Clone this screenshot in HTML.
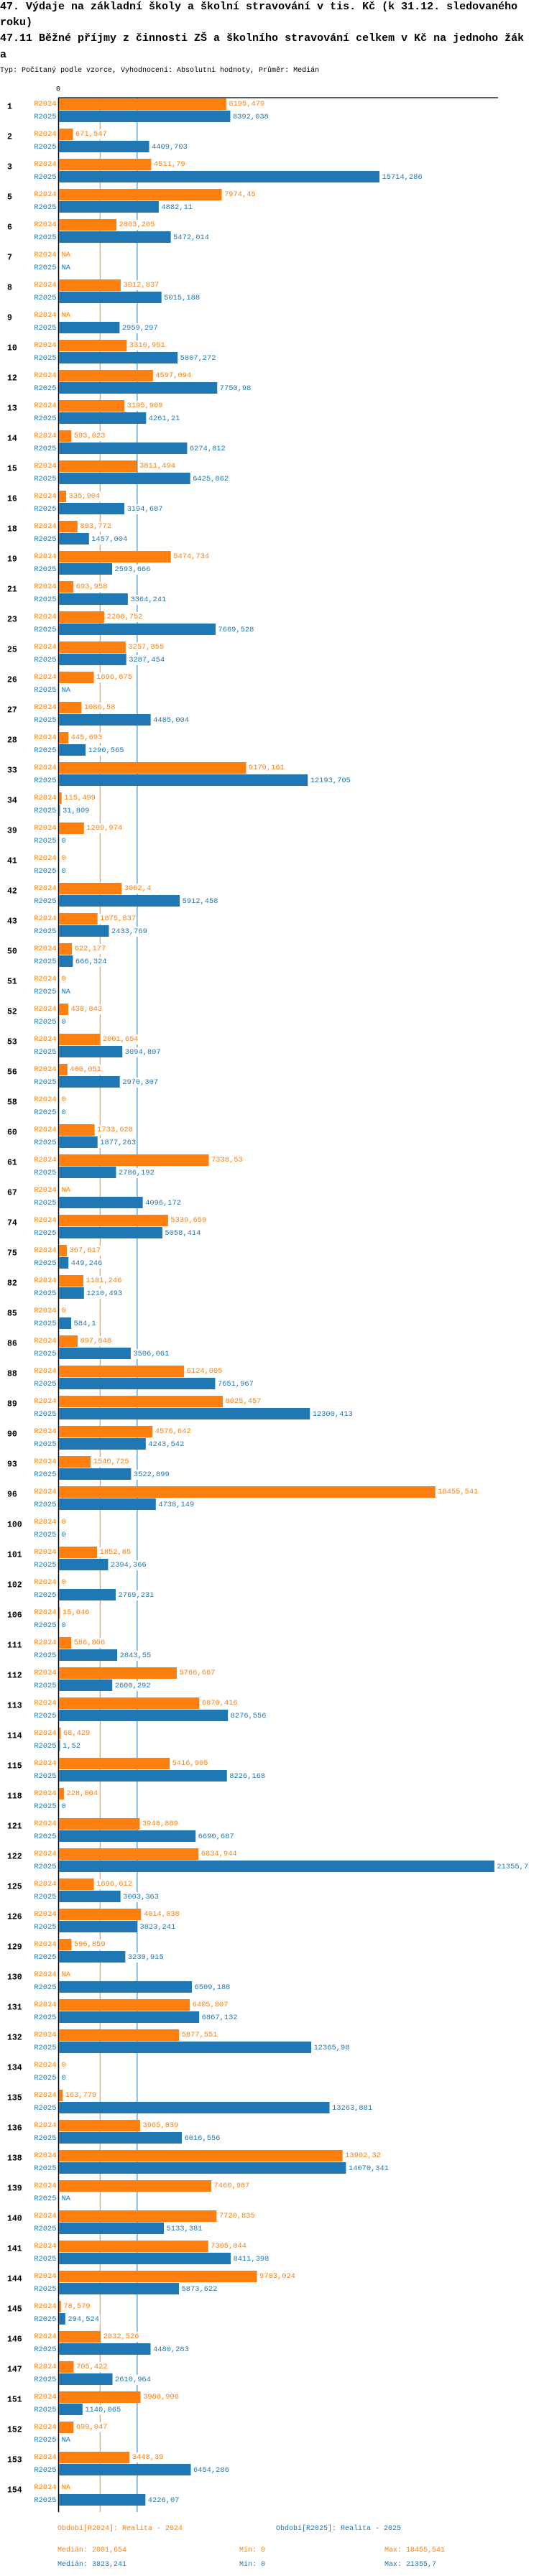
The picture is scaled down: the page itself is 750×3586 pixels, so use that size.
<!DOCTYPE html>
<html><head><meta charset="utf-8">
<style>
html,body{margin:0;padding:0;background:#fff;}
svg{display:block;}
text{font-family:"Liberation Mono",monospace;}
</style></head>
<body>
<svg id="chart" width="750" height="3586" xmlns="http://www.w3.org/2000/svg">
  <g font-size="15" font-weight="bold" fill="#000">
    <text x="0" y="13">47. Výdaje na základní školy a školní stravování v tis. Kč (k 31.12. sledovaného</text>
    <text x="0" y="35">roku)</text>
    <text x="0" y="57">47.11 Běžné příjmy z činnosti ZŠ a školního stravování celkem v Kč na jednoho žák</text>
    <text x="0" y="80">a</text>
  </g>
  <text x="0" y="100" font-size="10" fill="#000">Typ: Počítaný podle vzorce, Vyhodnocení: Absolutní hodnoty, Průměr: Medián</text>
  <g id="plot"></g>
  <g font-size="10">
    <text x="80" y="3522" fill="#ff7f0e">Období[R2024]: Realita - 2024</text>
    <text x="384" y="3522" fill="#1f77b4">Období[R2025]: Realita - 2025</text>
    <text x="80" y="3552" fill="#ff7f0e">Medián: 2001,654</text>
    <text x="333" y="3552" fill="#ff7f0e">Min: 0</text>
    <text x="535" y="3552" fill="#ff7f0e">Max: 18455,541</text>
    <text x="80" y="3572" fill="#1f77b4">Medián: 3823,241</text>
    <text x="333" y="3572" fill="#1f77b4">Min: 0</text>
    <text x="535" y="3572" fill="#1f77b4">Max: 21355,7</text>
  </g>
</svg>
<script>
const categories = ["1","2","3","5","6","7","8","9","10","12","13","14","15","16","18","19","21","23","25","26","27","28","33","34","39","41","42","43","50","51","52","53","56","58","60","61","67","74","75","82","85","86","88","89","90","93","96","100","101","102","106","111","112","113","114","115","118","121","122","125","126","129","130","131","132","134","135","136","138","139","140","141","144","145","146","147","151","152","153","154"];
const values2024 = [8195.479,671.547,4511.79,7974.45,2803.205,null,3012.837,null,3310.951,4597.094,3195.909,593.023,3811.494,335.904,893.772,5474.734,693.958,2208.752,3257.855,1696.875,1086.58,445.693,9170.161,115.499,1209.974,0,3062.4,1875.837,622.177,0,438.843,2001.654,400.051,0,1733.628,7338.53,null,5339.659,367.617,1181.246,0,897.848,6124.005,8025.457,4576.642,1540.725,18455.541,0,1852.85,0,15.046,586.806,5766.667,6870.416,68.429,5416.905,228.004,3948.889,6834.944,1696.612,4014.838,596.859,null,6405.807,5877.551,0,163.779,3965.839,13902.32,7460.987,7720.835,7305.044,9703.024,78.579,2032.526,705.422,3988.906,699.047,3448.39,null];
const values2025 = [8392.038,4409.703,15714.286,4882.11,5472.014,null,5015.188,2959.297,5807.272,7750.98,4261.21,6274.812,6425.862,3194.687,1457.004,2593.666,3364.241,7669.528,3287.454,null,4485.004,1290.565,12193.705,31.809,0,0,5912.458,2433.769,666.324,null,0,3094.807,2970.307,0,1877.263,2786.192,4096.172,5058.414,449.246,1210.493,584.1,3506.061,7651.967,12300.413,4243.542,3522.899,4738.149,0,2394.366,2769.231,0,2843.55,2600.292,8276.556,1.52,8226.168,0,6690.687,21355.7,3003.363,3823.241,3239.915,6509.188,6867.132,12365.98,0,13263.881,6016.556,14070.341,null,5133.381,8411.398,5873.622,294.524,4480.283,2610.964,1140.065,null,6454.286,4226.07];
const medians = [2001.654, 3823.241];

const NS = "http://www.w3.org/2000/svg";
const X0 = 82.5, K = 0.02835, TOP = 136, PITCH = 42;
const COLORS = ["#ff7f0e", "#1f77b4"];
const xScale = v => X0 + v * K;
const plot = document.getElementById("plot");
const bottom = TOP + 10 + categories.length * PITCH - 10 + 1;
function mk(tag, attrs, parent) {
  const el = document.createElementNS(NS, tag);
  for (const k in attrs) el.setAttribute(k, attrs[k]);
  (parent || plot).appendChild(el);
  return el;
}
const fmt = v => String(v).replace(".", ",");

// median lines
medians.forEach((m, i) => {
  const l = mk("line", {x1: xScale(m), x2: xScale(m), y1: TOP, y2: bottom, stroke: COLORS[i], "stroke-width": 1});
  
  
});

categories.forEach((cat, r) => {
  const base = TOP + r * PITCH;
  const g = mk("g", {});
  
  
  const cl = mk("text", {x: 10, y: base + 13, "font-size": 11.5, "font-weight": "bold", fill: "#000", "dominant-baseline": "central"}, g);
  cl.textContent = cat;
  
  
  [values2024, values2025].forEach((arr, s) => {
    const v = arr[r];
    const yTop = base + 1 + s * 17;
    const yc = base + 9 + s * 18;
    const sl = mk("text", {x: 78.5, y: yc, "font-size": 10.4, fill: COLORS[s], "text-anchor": "end", "dominant-baseline": "central"}, g);
    sl.textContent = s === 0 ? "R2024" : "R2025";
    
    
    let lx = 85.5;
    if (v !== null && v > 0) {
      const w = Math.max(v * K, 1);
      const b = mk("rect", {x: X0, y: yTop, width: w, height: 16, fill: COLORS[s]}, g);
      
      
      lx = X0 + w + 3.5;
    }
    const txt = v === null ? "NA" : fmt(v);
    const tw = txt.length * 6.25;
    const bg = mk("rect", {x: lx - 1, y: yc - 7, width: tw + 2, height: 14, fill: "#fff"}, g);
    
    
    const vl = mk("text", {x: lx, y: yc, "font-size": 10.4, fill: COLORS[s], "dominant-baseline": "central"}, g);
    vl.textContent = txt;
    
    
  });
});

// axes
const ax = mk("line", {x1: 81.5, x2: 81.5, y1: TOP, y2: bottom, stroke: "#000", "stroke-width": 1.5});


const tx = mk("line", {x1: 81, x2: 693, y1: TOP, y2: TOP, stroke: "#000", "stroke-width": 1.2});


const zl = mk("text", {x: 81, y: 125, "font-size": 10, fill: "#000", "text-anchor": "middle", "dominant-baseline": "central"});
zl.textContent = "0";


</script>
</body></html>
